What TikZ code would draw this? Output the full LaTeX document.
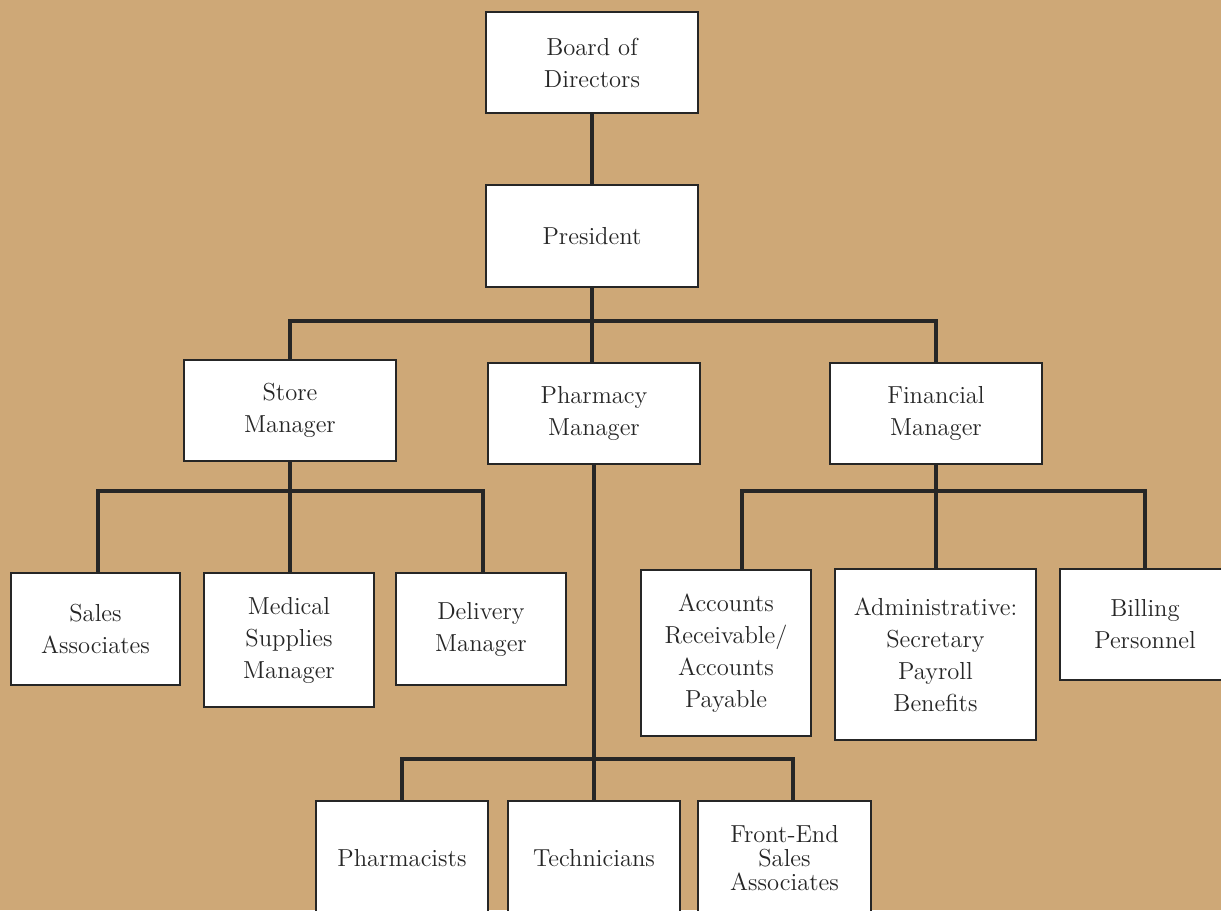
\documentclass[tikz,border=0pt]{standalone}
\usetikzlibrary{positioning}
\definecolor{Tan}{HTML}{CEA877}
\definecolor{Ink}{HTML}{262626}

\tikzset{
  post/.style={draw=Ink, fill=white, line width=1.1pt, align=center, text=Ink,
    inner sep=0pt, font=\fontsize{14}{18.2}\selectfont},
  wh/.style 2 args={minimum width=#1*0.02cm, minimum height=#2*0.02cm},
  link/.style={draw=Ink, line width=2pt},
}

\begin{document}
\begin{tikzpicture}[x=0.02cm,y=-0.02cm]
  \fill[Tan] (0,0) rectangle (1221,910);
  \useasboundingbox (0,0) rectangle (1221,910);
  \clip (0,0) rectangle (1221,910);
  % top of the chart
  \node[post, wh={212}{101}] (board) at (592,62.5) {Board of\\Directors};
  \node[post, wh={212}{102}] (pres) at (592,236) {President};
  % managers
  \node[post, wh={212}{101}] (store) at (290,410.5) {Store\\Manager};
  \node[post, wh={212}{101}] (pharm) at (594,413.5) {Pharmacy\\Manager};
  \node[post, wh={212}{101}] (fin) at (936,413.5) {Financial\\Manager};
  % staff
  \node[post, wh={169}{112}] (sales) at (95.5,629) {Sales\\Associates};
  \node[post, wh={170}{134}] (med) at (289,640) {Medical\\Supplies\\Manager};
  \node[post, wh={170}{112}] (deliv) at (481,629) {Delivery\\Manager};
  \node[post, wh={170}{166}] (acct) at (726,653) {Accounts\\Receivable/\\Accounts\\Payable};
  \node[post, wh={201}{171}] (admin) at (935.5,654.5) {Administrative:\\Secretary\\Payroll\\Benefits};
  \node[post, wh={170}{111}] (bill) at (1145,624.5) {Billing\\Personnel};
  \node[post, wh={172}{114}] (pharmst) at (402,858) {Pharmacists};
  \node[post, wh={172}{114}] (tech) at (594,858) {Technicians};
  \node[post, wh={173}{114}, font=\fontsize{14}{13.6}\selectfont] (front) at (784.5,858) {Front-End\\Sales\\Associates};
  % lines
  \draw[link] (board) -- (pres);
  \draw[link] (pres.south) -- ++(0,33) -| (store.north);
  \draw[link] (pres.south) -- ++(0,33) -| (fin.north);
  \draw[link] (pres.south) -- (pres.south |- pharm.north);
  \draw[link] (store.south) -- ++(0,29) -| ([xshift=0.05cm]sales.north);
  \draw[link] (store.south) -- ++(0,29) -| ([xshift=0.04cm]deliv.north);
  \draw[link] (store.south) -- (store.south |- med.north);
  \draw[link] (pharm.south) -- (pharm.south |- tech.north);
  \draw[link] (pharmst.north) -- ++(0,-41) -| ([xshift=0.17cm]front.north);
  \draw[link] (fin.south) -- ++(0,26) -| ([xshift=0.32cm]acct.north);
  \draw[link] (fin.south) -- ++(0,26) -| (bill.north);
  \draw[link] (fin.south) -- (fin.south |- admin.north);
\end{tikzpicture}
\end{document}
